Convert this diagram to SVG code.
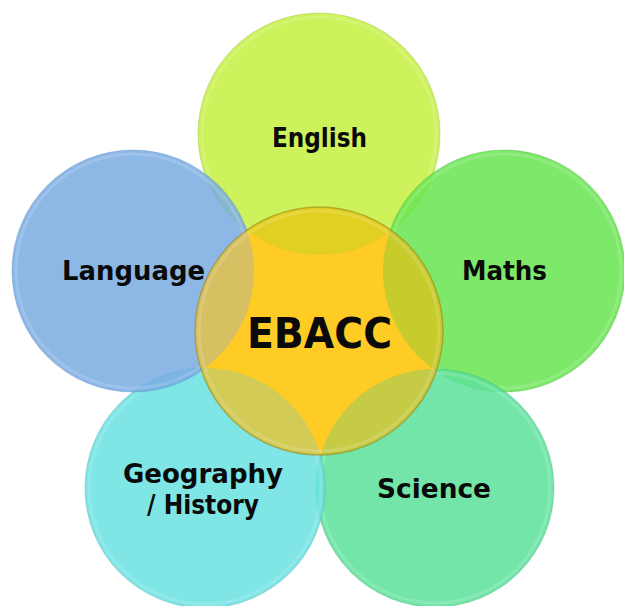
<svg xmlns="http://www.w3.org/2000/svg" xmlns:xlink="http://www.w3.org/1999/xlink" width="624" height="606" viewBox="0 0 624 606">
<style>
.lbl{font-family:"DejaVu Sans","Liberation Sans",sans-serif;font-weight:bold;fill:#0a0a0a;text-anchor:middle}
.c{fill-opacity:0.85;stroke-width:1.2;stroke-opacity:0.3}
.ring{fill:none;stroke:#ffffff;stroke-opacity:0.15;stroke-width:3}
.ov{opacity:0.35}
</style>
<defs>
<circle id="cEng" cx="319" cy="134" r="121"/>
<circle id="cLang" cx="133" cy="271" r="121"/>
<circle id="cMath" cx="504" cy="271" r="121"/>
<circle id="cGeo" cx="205" cy="488" r="120"/>
<circle id="cSci" cx="435" cy="488" r="119"/>
<clipPath id="clipEb"><circle cx="319" cy="331" r="124"/></clipPath>
</defs>
<rect width="624" height="606" fill="#ffffff"/>
<g id="english">
<circle class="c" cx="319" cy="134" r="121" fill="#c4f03f" stroke="#8fae2a"/>
<circle class="ring" cx="319" cy="134" r="117"/>
<text class="lbl" x="319.5" y="147" font-size="27" textLength="95" lengthAdjust="spacingAndGlyphs">English</text>
</g>
<g id="maths">
<circle class="c" cx="504" cy="271" r="121" fill="#67e450" stroke="#3fa52f"/>
<circle class="ring" cx="504" cy="271" r="117"/>
<text class="lbl" x="504.5" y="280" font-size="27" textLength="85" lengthAdjust="spacingAndGlyphs">Maths</text>
</g>
<g id="science">
<circle class="c" cx="435" cy="488" r="119" fill="#5ae199" stroke="#3aa570"/>
<circle class="ring" cx="435" cy="488" r="115"/>
<text class="lbl" x="434" y="498" font-size="27" textLength="114" lengthAdjust="spacingAndGlyphs">Science</text>
</g>
<g id="geography">
<circle class="c" cx="205" cy="488" r="120" fill="#69e1e1" stroke="#3aa5a8"/>
<circle class="ring" cx="205" cy="488" r="116"/>
<text class="lbl" x="203" y="483" font-size="27" textLength="160" lengthAdjust="spacingAndGlyphs">Geography</text>
<text class="lbl" x="203" y="514" font-size="27" textLength="112" lengthAdjust="spacingAndGlyphs">/ History</text>
</g>
<g id="language">
<circle class="c" cx="133" cy="271" r="121" fill="#79abe2" stroke="#4a7fb8"/>
<circle class="ring" cx="133" cy="271" r="117"/>
<text class="lbl" x="133.5" y="280" font-size="27" textLength="143" lengthAdjust="spacingAndGlyphs">Language</text>
</g>
<g id="ebacc">
<circle cx="319" cy="331" r="124" fill="#ffcc26"/>
<g clip-path="url(#clipEb)">
<use xlink:href="#cEng" class="ov" fill="#a8d41e"/>
<use xlink:href="#cMath" class="ov" fill="#5ec83a"/>
<use xlink:href="#cSci" class="ov" fill="#5cc880"/>
<use xlink:href="#cGeo" class="ov" fill="#7ec8b0"/>
<use xlink:href="#cLang" class="ov" fill="#8aa8d0"/>
</g>
<circle cx="319" cy="331" r="124" fill="none" stroke="#9a8c1c" stroke-opacity="0.6" stroke-width="1.5"/>
<circle class="ring" cx="319" cy="331" r="120"/>
<text class="lbl" x="319.5" y="348" font-size="42" textLength="145" lengthAdjust="spacingAndGlyphs">EBACC</text>
</g>
</svg>
